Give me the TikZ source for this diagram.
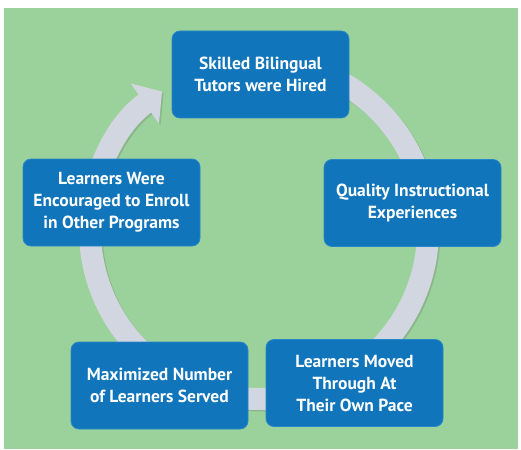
\documentclass[tikz,border=0pt]{standalone}
\usepackage{fontspec}
\setmainfont{PT Sans}
\usetikzlibrary{arrows.meta}
\definecolor{meadow}{RGB}{155,210,155}
\definecolor{tile}{RGB}{16,117,186}
\definecolor{tileedge}{RGB}{40,135,200}
\definecolor{ringgray}{RGB}{210,214,224}
\definecolor{ringshade}{RGB}{120,150,120}

\begin{document}
\begin{tikzpicture}[x=1pt,y=-1pt,
step box/.style={draw=tileedge,line width=0.8pt,rounded corners=8pt,fill=tile,
text=white,font=\bfseries\fontsize{17.5}{22}\selectfont,minimum width=177pt,
minimum height=87pt,align=center,inner sep=2pt}]
\useasboundingbox (0,0) rectangle (521,449);
\fill[meadow] (4,8) rectangle (518,449);
% the cycle ring behind the boxes
\draw[ringshade,opacity=0.45,line width=22pt,-{Triangle[width=48pt,length=21pt]}]
 (260.5,231.5) ++(-95:169) arc[start angle=-95,end angle=235,radius=169];
\draw[ringgray,line width=22pt,-{Triangle[width=48pt,length=21pt]}]
 (259,230) ++(-95:169) arc[start angle=-95,end angle=235,radius=169];
\node[step box] (hired) at (260.5,74.5) {Skilled Bilingual\\Tutors were Hired};
\node[step box] (quality) at (412.5,203) {Quality Instructional\\Experiences};
\node[step box] (pace) at (354.5,383) {Learners Moved\\Through At\\Their Own Pace};
\node[step box] (served) at (159.5,385.5) {Maximized Number\\of Learners Served};
\node[step box] (enroll) at (111.5,202.5) {Learners Were\\Encouraged to Enroll\\in Other Programs};
\end{tikzpicture}
\end{document}
